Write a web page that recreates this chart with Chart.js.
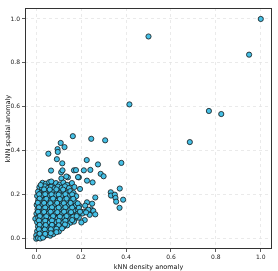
<!DOCTYPE html>
<html lang="en">
<head>
    <meta charset="UTF-8">
    <title>kNN anomaly scatter</title>
    <script src="https://cdn.jsdelivr.net/npm/chart.js"></script>
    <style>
        body {
            margin: 0;
            background: #fff;
        }
        canvas {
            display: block;
        }
    </style>
</head>
<body>
    <canvas id="scatterChart" width="278" height="271"></canvas>

    <script>
        // tick positions shared by both axes
        const tickValues = [0.0, 0.2, 0.4, 0.6, 0.8, 1.0];

        // sparse points away from the main cluster [density, spatial]
        const outliers = [
            [1.0, 1.0], [0.50, 0.92], [0.948, 0.837], [0.415, 0.61], [0.769, 0.58], [0.824, 0.566], [0.684, 0.438],
            [0.163, 0.465], [0.245, 0.453], [0.307, 0.446], [0.109, 0.434], [0.126, 0.415], [0.095, 0.406],
            [0.096, 0.393], [0.054, 0.385], [0.092, 0.36], [0.116, 0.341], [0.225, 0.356], [0.379, 0.343],
            [0.275, 0.336], [0.066, 0.308], [0.111, 0.300], [0.117, 0.309], [0.168, 0.309], [0.177, 0.31],
            [0.212, 0.309], [0.241, 0.311], [0.287, 0.293], [0.300, 0.282], [0.190, 0.277], [0.141, 0.277],
            [0.112, 0.272], [0.226, 0.262], [0.251, 0.254], [0.372, 0.226], [0.332, 0.209], [0.333, 0.194],
            [0.350, 0.198], [0.353, 0.183], [0.387, 0.175], [0.356, 0.166], [0.371, 0.138], [0.263, 0.185],
            [0.249, 0.157], [0.226, 0.163], [0.193, 0.147], [0.244, 0.131], [0.254, 0.124], [0.263, 0.108],
            [0.229, 0.125], [0.211, 0.120], [0.216, 0.082], [0.201, 0.071], [0.195, 0.224], [0.186, 0.278]
        ];

        // dense cluster near the origin [density, spatial]
        const cluster = [
            [0.028, 0.252], [0.043, 0.248], [0.058, 0.255], [0.071, 0.246], [0.088, 0.251], [0.104, 0.244], [0.121, 0.253], [0.137, 0.243], [0.159, 0.251], [0.134, 0.281], [0.067, 0.258],
            [0.014, 0.232], [0.026, 0.228], [0.039, 0.236], [0.053, 0.229], [0.066, 0.234], [0.082, 0.227], [0.097, 0.235], [0.113, 0.229], [0.128, 0.236], [0.146, 0.228], [0.170, 0.233],
            [0.008, 0.212], [0.021, 0.206], [0.034, 0.214], [0.048, 0.208], [0.061, 0.216], [0.076, 0.209], [0.091, 0.213], [0.107, 0.205], [0.122, 0.215], [0.138, 0.207], [0.152, 0.214], [0.166, 0.206],
            [0.004, 0.192], [0.017, 0.186], [0.029, 0.195], [0.043, 0.188], [0.057, 0.193], [0.072, 0.186], [0.086, 0.194], [0.101, 0.187], [0.117, 0.192], [0.131, 0.185], [0.147, 0.193], [0.162, 0.187], [0.178, 0.191],
            [0.009, 0.172], [0.023, 0.166], [0.037, 0.174], [0.052, 0.168], [0.067, 0.173], [0.081, 0.165], [0.096, 0.171], [0.112, 0.166], [0.127, 0.174], [0.142, 0.167], [0.157, 0.172], [0.173, 0.165],
            [0.002, 0.151], [0.014, 0.146], [0.028, 0.154], [0.042, 0.147], [0.056, 0.152], [0.071, 0.145], [0.086, 0.153], [0.101, 0.146], [0.116, 0.151], [0.131, 0.144], [0.146, 0.152], [0.161, 0.146], [0.177, 0.15], [0.218, 0.148],
            [0.006, 0.131], [0.019, 0.126], [0.033, 0.134], [0.047, 0.127], [0.062, 0.132], [0.077, 0.125], [0.092, 0.133], [0.107, 0.126], [0.122, 0.131], [0.137, 0.124], [0.152, 0.132], [0.168, 0.126], [0.186, 0.13], [0.232, 0.129],
            [0.001, 0.111], [0.013, 0.105], [0.027, 0.113], [0.041, 0.106], [0.056, 0.112], [0.071, 0.104], [0.086, 0.111], [0.101, 0.105], [0.116, 0.112], [0.131, 0.104], [0.147, 0.11], [0.165, 0.103], [0.184, 0.109], [0.206, 0.112], [0.238, 0.106],
            [-0.004, 0.088], [0.009, 0.093], [0.022, 0.086], [0.036, 0.092], [0.05, 0.085], [0.065, 0.091], [0.08, 0.084], [0.095, 0.09], [0.11, 0.085], [0.125, 0.092], [0.14, 0.086], [0.156, 0.091], [0.172, 0.087], [0.19, 0.093],
            [0.004, 0.072], [0.018, 0.066], [0.032, 0.073], [0.046, 0.067], [0.06, 0.071], [0.075, 0.064], [0.09, 0.072], [0.105, 0.066], [0.12, 0.071], [0.135, 0.065], [0.152, 0.07], [0.168, 0.075],
            [0.008, 0.052], [0.021, 0.046], [0.035, 0.053], [0.049, 0.047], [0.064, 0.052], [0.078, 0.045], [0.093, 0.051], [0.108, 0.046], [0.123, 0.053], [0.138, 0.058],
            [0.004, 0.031], [0.016, 0.026], [0.03, 0.033], [0.044, 0.027], [0.058, 0.032], [0.072, 0.026], [0.087, 0.033], [0.101, 0.03],
            [0.0, 0.012], [0.01, 0.006], [0.022, 0.013], [0.035, 0.008], [0.048, 0.014], [0.062, 0.011], [0.076, 0.018],
            [0.0, -0.003], [0.008, 0.0], [0.018, -0.002], [0.03, 0.002],
            [0.02, 0.242], [0.035, 0.222], [0.06, 0.221], [0.09, 0.222], [0.12, 0.221],
            [0.013, 0.2], [0.04, 0.2], [0.068, 0.199], [0.1, 0.198], [0.13, 0.2], [0.16, 0.199],
            [0.015, 0.18], [0.045, 0.179], [0.075, 0.18], [0.105, 0.178], [0.135, 0.18], [0.165, 0.179],
            [0.007, 0.161], [0.035, 0.16], [0.063, 0.159], [0.093, 0.16], [0.123, 0.159], [0.153, 0.16], [0.185, 0.158],
            [0.012, 0.14], [0.04, 0.139], [0.07, 0.14], [0.1, 0.139], [0.13, 0.14], [0.16, 0.139], [0.19, 0.138],
            [0.008, 0.12], [0.035, 0.119], [0.064, 0.12], [0.094, 0.118], [0.124, 0.12], [0.155, 0.118], [0.195, 0.12], [0.222, 0.117],
            [0.016, 0.1], [0.045, 0.099], [0.075, 0.1], [0.105, 0.098], [0.135, 0.1], [0.165, 0.097], [0.18, 0.1],
            [0.012, 0.08], [0.04, 0.079], [0.07, 0.08], [0.1, 0.078], [0.13, 0.079], [0.16, 0.082],
            [0.015, 0.06], [0.042, 0.059], [0.07, 0.06], [0.1, 0.058], [0.128, 0.062],
            [0.012, 0.04], [0.038, 0.039], [0.065, 0.04], [0.09, 0.042], [0.115, 0.044],
            [0.015, 0.02], [0.04, 0.019], [0.065, 0.022], [0.09, 0.027]
        ];

        const allPoints = outliers.concat(cluster).map(p => ({ x: p[0], y: p[1] }));

        // draws the full box around the plot area
        const frameBox = {
            id: 'frameBox',
            afterDraw(chart) {
                const a = chart.chartArea;
                const ctx = chart.ctx;
                ctx.save();
                ctx.strokeStyle = '#333';
                ctx.lineWidth = 1;
                ctx.strokeRect(a.left + 0.5, a.top + 0.5, a.right - a.left - 1, a.bottom - a.top - 1);
                ctx.restore();
            }
        };

        const tickFont = { family: 'DejaVu Sans', size: 6 };
        const titleFont = { family: 'DejaVu Sans', size: 6.5 };

        function axisOptions(titleText) {
            return {
                type: 'linear',
                min: -0.05,
                max: 1.05,
                afterBuildTicks: (s) => { s.ticks = tickValues.map(v => ({ value: v })); },
                ticks: {
                    font: tickFont,
                    color: '#222',
                    padding: 2,
                    callback: (v) => Number(v).toFixed(1)
                },
                grid: {
                    color: '#e2e2e2',
                    lineWidth: 0.7,
                    tickLength: 3,
                    tickColor: '#333',
                    tickWidth: 0.8,
                    tickBorderDash: []
                },
                border: { display: false, dash: [3, 3] },
                title: {
                    display: true,
                    text: titleText,
                    font: titleFont,
                    color: '#111',
                    padding: 0
                }
            };
        }

        const xAxis = axisOptions('kNN density anomaly');
        xAxis.afterFit = (s) => { s.height = 22; };
        const yAxis = axisOptions('kNN spatial anomaly');
        yAxis.afterFit = (s) => { s.width = 25; };
        yAxis.title.padding = { top: 4, bottom: 0 };

        new Chart(document.getElementById('scatterChart'), {
            type: 'scatter',
            data: {
                datasets: [{
                    data: allPoints,
                    backgroundColor: '#45c0e6',
                    borderColor: '#151515',
                    borderWidth: 0.8,
                    pointRadius: 2.6
                }]
            },
            options: {
                responsive: false,
                animation: false,
                layout: { padding: { top: 8, right: 6, left: 0, bottom: 0 } },
                plugins: {
                    legend: { display: false },
                    tooltip: { enabled: false }
                },
                scales: { x: xAxis, y: yAxis }
            },
            plugins: [frameBox]
        });
    </script>
</body>
</html>
